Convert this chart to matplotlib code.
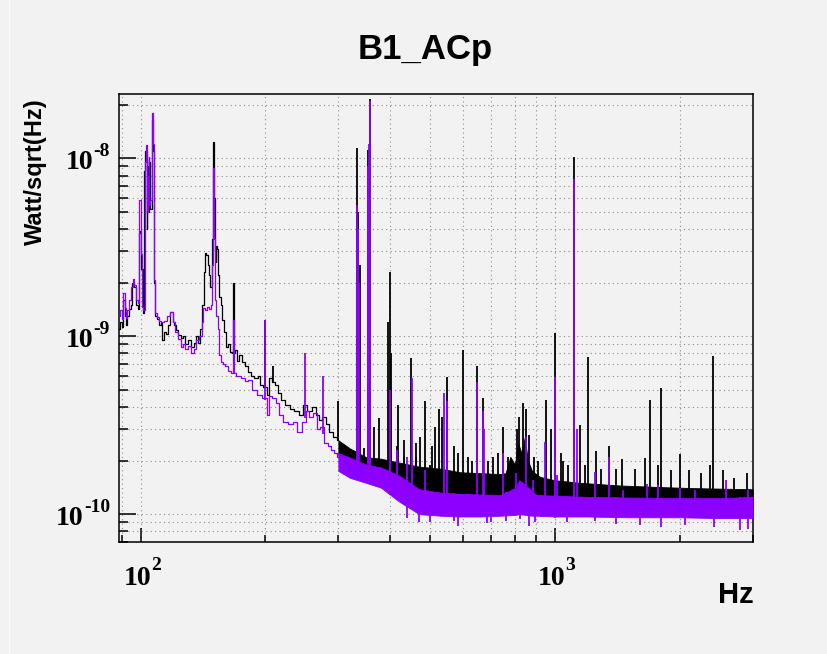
import numpy as np
import matplotlib
matplotlib.use("Agg")
import matplotlib.pyplot as plt
from matplotlib.ticker import LogLocator, FixedLocator, NullFormatter
from matplotlib.transforms import ScaledTranslation
from matplotlib.lines import Line2D

# ---- data (Hz, Watt/sqrt(Hz)) ----
# low-frequency traces (below ~300 Hz)
freq_black = [88.8, 89.5, 90.3, 91.1, 91.8, 92.5, 93.3, 94.2, 95.0, 96.0, 97.0, 98.1, 98.8,
              99.4, 100.0, 100.7, 101.5, 102.2, 103.0, 103.6, 104.1, 104.7, 105.3, 105.9,
              106.6, 107.2, 107.8, 108.9, 110.0, 111.3, 112.3, 113.4, 114.5, 115.7, 117.0,
              118.8, 120.0, 121.0, 122.2, 124.0, 125.6, 127.0, 129.3, 131.0, 133.9, 135.0,
              136.5, 138.0, 140.3, 141.5, 142.5, 143.7, 144.6, 145.6, 146.5, 147.9, 149.0,
              150.0, 150.6, 151.3, 152.0, 152.6, 153.5, 154.2, 155.4, 156.5, 158.3, 160.0,
              161.3, 163.0, 165.0, 166.6, 167.3, 168.0, 169.0, 171.7, 174.0, 176.8, 180.0,
              183.0, 186.0, 190.0, 193.0, 196.0, 199.5, 203.0, 206.0, 209.0, 212.0, 216.0,
              220.0, 226.0, 232.0, 238.0, 244.0, 250.0, 255.0, 262.0, 268.0, 272.0, 277.0,
              282.0, 288.0, 294.0, 300.0]
psd_black = [1.1e-9, 1.2e-9, 1.12e-9, 1.6e-9, 1.3e-9, 1.15e-9, 1.3e-9, 1.42e-9, 1.5e-9, 2.0e-9,
             1.9e-9, 1.5e-9, 1.42e-9, 3.8e-9, 3.9e-9, 2.4e-9, 1.35e-9, 8.5e-9, 1.1e-8, 4.0e-9,
             9.0e-9, 5.0e-9, 9.5e-9, 5.2e-9, 1.65e-8, 1.1e-8, 2.0e-9, 1.3e-9, 1.25e-9, 1.15e-9,
             1.18e-9, 0.95e-9, 1.05e-9, 1.03e-9, 1.15e-9, 1.37e-9, 1.2e-9, 1.15e-9, 1.08e-9,
             1.02e-9, 0.98e-9, 1.0e-9, 0.9e-9, 0.95e-9, 0.87e-9, 0.92e-9, 1.0e-9, 0.92e-9,
             1.1e-9, 1.5e-9, 2.3e-9, 2.92e-9, 2.85e-9, 2.5e-9, 2.2e-9, 1.9e-9, 3.5e-9,
             1.24e-8, 6.0e-9, 3.0e-9, 2.6e-9, 3.2e-9, 3.1e-9, 2.2e-9, 1.66e-9, 1.5e-9, 1.23e-9,
             1.05e-9, 0.87e-9, 0.9e-9, 0.82e-9, 0.8e-9, 2.0e-9, 0.8e-9, 0.84e-9, 0.73e-9,
             0.78e-9, 0.72e-9, 0.68e-9, 0.63e-9, 0.6e-9, 0.58e-9, 0.6e-9, 0.53e-9, 0.52e-9,
             0.47e-9, 0.58e-9, 0.55e-9, 0.53e-9, 0.48e-9, 0.44e-9, 0.41e-9, 0.39e-9, 0.38e-9,
             0.36e-9, 0.41e-9, 0.38e-9, 0.4e-9, 0.36e-9, 0.34e-9, 0.35e-9, 0.32e-9, 0.29e-9,
             0.27e-9, 0.26e-9]

freq_purple = [88.8, 89.5, 90.3, 91.1, 91.8, 92.5, 93.3, 94.2, 95.2, 96.0, 97.0, 98.1, 98.8,
               99.6, 100.3, 101.0, 101.8, 102.5, 103.0, 103.6, 104.2, 104.7, 105.3, 105.9,
               106.6, 107.2, 107.8, 108.5, 110.0, 111.3, 113.0, 115.0, 117.0, 118.8, 120.0,
               122.2, 124.0, 125.6, 127.0, 129.3, 131.0, 133.9, 135.5, 137.0, 139.6, 141.0,
               142.5, 144.0, 145.6, 147.0, 148.5, 149.5, 150.0, 150.6, 151.3, 152.6, 154.0,
               155.4, 157.0, 158.3, 161.3, 164.0, 166.6, 167.3, 168.0, 171.7, 176.8, 180.0,
               183.0, 188.0, 194.0, 199.5, 203.0, 206.0, 210.0, 214.0, 218.0, 224.0, 230.0,
               236.0, 242.0, 248.0, 253.0, 258.0, 264.0, 268.0, 273.0, 280.0, 285.0, 290.0,
               296.0, 300.0]
psd_purple = [1.3e-9, 1.4e-9, 1.25e-9, 1.75e-9, 1.45e-9, 1.26e-9, 1.4e-9, 1.6e-9, 1.89e-9,
              2.09e-9, 1.95e-9, 1.6e-9, 1.53e-9, 5.8e-9, 2.9e-9, 1.46e-9, 1.4e-9, 9.5e-9,
              1.19e-8, 5.0e-9, 8.0e-9, 1.02e-8, 5.5e-9, 5.8e-9, 1.8e-8, 1.2e-8, 2.06e-9,
              1.35e-9, 1.28e-9, 1.22e-9, 1.2e-9, 1.22e-9, 1.3e-9, 1.37e-9, 1.2e-9, 1.05e-9,
              0.97e-9, 0.87e-9, 0.9e-9, 0.85e-9, 0.88e-9, 0.8e-9, 0.85e-9, 0.95e-9, 1.0e-9,
              1.2e-9, 1.44e-9, 1.4e-9, 1.46e-9, 1.42e-9, 1.5e-9, 2.5e-9, 8.8e-9, 3.5e-9,
              1.6e-9, 1.3e-9, 1.1e-9, 0.78e-9, 0.72e-9, 0.7e-9, 0.68e-9, 0.64e-9, 0.62e-9,
              1.23e-9, 0.62e-9, 0.6e-9, 0.58e-9, 0.56e-9, 0.565e-9, 0.5e-9, 0.466e-9, 0.45e-9,
              0.36e-9, 0.46e-9, 0.45e-9, 0.42e-9, 0.36e-9, 0.33e-9, 0.32e-9, 0.33e-9, 0.29e-9,
              0.33e-9, 0.38e-9, 0.35e-9, 0.37e-9, 0.3e-9, 0.31e-9, 0.25e-9, 0.24e-9, 0.23e-9,
              0.22e-9, 0.21e-9]

# noise floor above 300 Hz: lower / upper envelope of the dense trace
band_freq_black = [300, 320, 350, 380, 420, 470, 530, 590, 660, 740, 760, 780, 800, 815, 830,
                   845, 860, 880, 920, 1000, 1150, 1430, 1790, 2180, 3000]
band_lo_black = [2.14e-10, 1.93e-10, 1.76e-10, 1.7e-10, 1.45e-10, 1.36e-10, 1.32e-10, 1.3e-10,
                 1.28e-10, 1.25e-10, 1.28e-10, 1.35e-10, 1.35e-10, 1.4e-10, 1.4e-10, 1.38e-10,
                 1.35e-10, 1.3e-10, 1.28e-10, 1.24e-10, 1.2e-10, 1.18e-10, 1.17e-10, 1.15e-10,
                 1.12e-10]
band_hi_black = [2.6e-10, 2.34e-10, 2.09e-10, 2.05e-10, 1.95e-10, 1.85e-10, 1.8e-10, 1.72e-10,
                 1.7e-10, 1.68e-10, 1.7e-10, 2.1e-10, 1.9e-10, 2.5e-10, 2.2e-10, 2.7e-10,
                 2.0e-10, 1.75e-10, 1.62e-10, 1.55e-10, 1.5e-10, 1.45e-10, 1.42e-10, 1.4e-10,
                 1.38e-10]

band_freq_purple = [300, 320, 350, 380, 420, 470, 530, 590, 660, 740, 800, 820, 850, 880, 900,
                    1000, 1200, 1500, 2000, 2500, 3000]
band_lo_purple = [1.75e-10, 1.6e-10, 1.5e-10, 1.41e-10, 1.18e-10, 1.0e-10, 0.98e-10, 0.97e-10,
                  0.97e-10, 0.98e-10, 0.99e-10, 1.0e-10, 0.99e-10, 0.98e-10, 0.98e-10, 0.97e-10,
                  0.97e-10, 0.96e-10, 0.96e-10, 0.95e-10, 0.95e-10]
band_hi_purple = [2.2e-10, 2.08e-10, 1.9e-10, 1.83e-10, 1.65e-10, 1.38e-10, 1.32e-10, 1.3e-10,
                  1.29e-10, 1.28e-10, 1.4e-10, 1.55e-10, 1.45e-10, 1.35e-10, 1.28e-10, 1.27e-10,
                  1.25e-10, 1.24e-10, 1.23e-10, 1.23e-10, 1.25e-10]

# narrow lines (frequency, peak value)
spike_freq_black = [200, 209, 300, 308, 320, 332, 335, 338, 345, 353, 358, 365, 375, 395, 400,
                    403, 415, 419, 431, 432, 449, 462, 463, 472, 486, 499, 505, 513, 524, 535,
                    550, 570, 583, 601, 615, 630, 649, 669, 690, 710, 727, 750, 770, 809, 820,
                    838, 850, 865, 890, 910, 949, 978, 1000, 1034, 1048, 1075, 1111, 1149,
                    1180, 1203, 1254, 1290, 1350, 1400, 1449, 1560, 1649, 1696, 1776, 1803,
                    1910, 2003, 2103, 2250, 2361, 2402, 2540, 2700, 2900]
spike_peak_black = [1.24e-9, 0.68e-9, 0.43e-9, 0.235e-9, 0.23e-9, 1.15e-8, 5.0e-9, 2.5e-9,
                    0.235e-9, 1.12e-8, 2.15e-8, 0.31e-9, 0.345e-9, 1.2e-9, 2.3e-9, 0.8e-9,
                    0.24e-9, 0.41e-9, 0.21e-9, 0.26e-9, 0.75e-9, 0.25e-9, 0.21e-9, 0.27e-9,
                    0.43e-9, 0.19e-9, 0.24e-9, 0.31e-9, 0.39e-9, 0.35e-9, 0.59e-9, 0.24e-9,
                    0.22e-9, 0.84e-9, 0.21e-9, 0.2e-9, 0.68e-9, 0.45e-9, 0.2e-9, 0.21e-9,
                    0.22e-9, 0.31e-9, 0.21e-9, 0.3e-9, 0.35e-9, 0.42e-9, 0.39e-9, 0.28e-9,
                    0.21e-9, 0.2e-9, 0.44e-9, 0.3e-9, 1.04e-9, 0.22e-9, 0.2e-9, 0.19e-9,
                    1.02e-8, 0.316e-9, 0.19e-9, 0.76e-9, 0.226e-9, 0.18e-9, 0.24e-9, 0.18e-9,
                    0.203e-9, 0.18e-9, 0.208e-9, 0.44e-9, 0.19e-9, 0.51e-9, 0.176e-9,
                    0.217e-9, 0.176e-9, 0.17e-9, 0.19e-9, 0.77e-9, 0.176e-9, 0.16e-9, 0.17e-9]

spike_freq_purple = [200, 249.6, 276, 332, 334, 336, 353, 356, 358, 400, 415, 439, 451, 486,
                     539, 550, 649, 669, 673, 750, 806, 850, 885, 946, 1000, 1011, 1111, 1129,
                     1252, 1350, 1459, 1665, 1774, 2003, 2183, 2580, 2930]
spike_peak_purple = [1.24e-9, 0.81e-9, 0.6e-9, 5.5e-9, 4.0e-9, 2.0e-9, 9.0e-9, 1.2e-8, 2.11e-8,
                     0.5e-9, 0.23e-9, 0.21e-9, 0.58e-9, 0.176e-9, 0.48e-9, 0.43e-9, 0.55e-9,
                     0.38e-9, 0.3e-9, 0.22e-9, 0.17e-9, 0.27e-9, 0.155e-9, 0.254e-9, 0.59e-9,
                     0.165e-9, 7.7e-9, 0.3e-9, 0.172e-9, 0.21e-9, 0.136e-9, 0.147e-9,
                     0.145e-9, 0.14e-9, 0.136e-9, 0.155e-9, 0.136e-9]

# downward excursions of the purple floor (frequency, lowest value)
dip_freq_purple = [440, 470, 500, 569, 584, 684, 700, 763, 822, 866, 895, 923, 1000, 1067, 1252,
                   1404, 1605, 1804, 2055, 2414, 2800, 2930]
dip_low_purple = [0.95e-10, 0.9e-10, 0.9e-10, 0.92e-10, 0.86e-10, 0.89e-10, 0.9e-10, 0.92e-10,
                  0.94e-10, 0.86e-10, 0.9e-10, 0.96e-10, 0.95e-10, 0.9e-10, 0.92e-10, 0.88e-10,
                  0.87e-10, 0.85e-10, 0.87e-10, 0.85e-10, 0.81e-10, 0.83e-10]

x_major = [100, 1000]
x_exponents = ["2", "3"]
y_major = [1e-10, 1e-9, 1e-8]
y_exponents = ["-10", "-9", "-8"]

BG = "#f2f2f2"
BLACK = "#000000"
PURPLE = "#8c00ff"
SERIF = "Liberation Serif"
SANS = "Liberation Sans"

fig = plt.figure(figsize=(8.28, 6.54), dpi=100, facecolor=BG)
ax = fig.add_axes([119.3 / 828, 1 - 541.7 / 654, (752.7 - 119.3) / 828, (541.7 - 94.3) / 654])
ax.set_facecolor(BG)
ax.set_xscale('log')
ax.set_yscale('log')
ax.set_xlim(88.8, 3000)
ax.set_ylim(7.0e-11, 2.29e-8)


def local_floor(freq, psd, bfreq, blo, at):
    # floor of the trace at the given frequencies (log-log)
    f = np.log10(list(freq) + list(bfreq[1:]))
    v = np.log10(list(psd) + list(blo[1:]))
    return 10 ** np.interp(np.log10(at), f, v)


def draw_series(freq, psd, bfreq, blo, bhi, sfreq, speak, color):
    ax.plot(freq, psd, color=color, lw=0.9, drawstyle='steps-mid', zorder=3)
    ax.fill_between(bfreq, blo, bhi, color=color, lw=0.6, zorder=3)
    base = local_floor(freq, psd, bfreq, blo, sfreq)
    ax.vlines(sfreq, base, speak, color=color, lw=1.3, zorder=3)


draw_series(freq_black, psd_black, band_freq_black, band_lo_black, band_hi_black,
            spike_freq_black, spike_peak_black, BLACK)
draw_series(freq_purple, psd_purple, band_freq_purple, band_lo_purple, band_hi_purple,
            spike_freq_purple, spike_peak_purple, PURPLE)
dip_top = local_floor(freq_purple, psd_purple, band_freq_purple, band_hi_purple,
                      dip_freq_purple)
ax.vlines(dip_freq_purple, dip_low_purple, dip_top, color=PURPLE, lw=1.3, zorder=3)

# axes, ticks, grid
ax.xaxis.set_major_locator(FixedLocator(x_major))
ax.yaxis.set_major_locator(FixedLocator(y_major))
for a in (ax.xaxis, ax.yaxis):
    a.set_minor_locator(LogLocator(base=10, subs=np.arange(2, 10)))
    a.set_minor_formatter(NullFormatter())

ax.grid(which='both', color='#8a8a8a', linestyle=(0, (1, 3)), lw=0.8)
ax.set_axisbelow(True)
ax.tick_params(axis='both', which='both', direction='in', top=False, right=False,
               width=1.1, color='black', labelbottom=False, labelleft=False)
ax.tick_params(axis='x', which='major', length=10)
ax.tick_params(axis='x', which='minor', length=5)
ax.tick_params(axis='y', which='major', length=12)
ax.tick_params(axis='y', which='minor', length=6.5)
for s in ax.spines.values():
    s.set_linewidth(1.1)
    s.set_color('black')

# ROOT-style "10^n" tick labels
renderer = fig.canvas.get_renderer()
lab = dict(fontsize=20, fontweight='bold', family=SERIF, va='baseline')
sup = dict(fontsize=14, fontweight='bold', family=SERIF, va='baseline')
px = 72.0 / fig.dpi

xt = ax.get_xaxis_transform()
for v, e in zip(x_major, x_exponents):
    off = ScaledTranslation(10.5 * px / 72, 0, fig.dpi_scale_trans)
    ax.text(v, (541.7 - 585) / 447.4, "10", transform=xt + off, ha='right', **lab)
    ax.text(v, (541.7 - 570) / 447.4, e, transform=xt + off, ha='left', **sup)

yt = ax.get_yaxis_transform()
x_right = (110 - 119.3) / 633.4
for v, e in zip(y_major, y_exponents):
    t = ax.text(x_right, v, e, ha='right',
                transform=yt + ScaledTranslation(0, 2.5 * px / 72, fig.dpi_scale_trans), **sup)
    w = t.get_window_extent(renderer).width
    ax.text(x_right, v, "10", ha='right',
            transform=yt + ScaledTranslation(-w / fig.dpi, -10.5 * px / 72, fig.dpi_scale_trans),
            **lab)

# titles
fig.text(424.7 / 828, 1 - 59 / 654, "B1_ACp", ha='center', va='baseline',
         fontsize=25, fontweight='bold', family=SANS)
fig.text(35.5 / 828, 1 - 98 / 654, "Watt/sqrt(Hz)", rotation=90, ha='center', va='top',
         fontsize=17, fontweight='bold', family=SANS)
fig.text(753.3 / 828, 1 - 603.3 / 654, "Hz", ha='right', va='baseline',
         fontsize=21, fontweight='bold', family=SANS)

fig.add_artist(Line2D([9 / 828, 9 / 828], [0, 1], color='#fbfbfb', lw=1.0))

fig.savefig("out.png", dpi=100, facecolor=BG)
